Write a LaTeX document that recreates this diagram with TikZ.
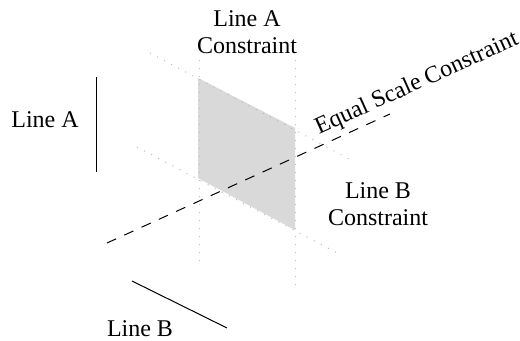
\documentclass[tikz,border=0pt]{standalone}
\usepackage{fontspec}
\setmainfont{Liberation Serif}
\usepackage{tikz}
\usetikzlibrary{positioning}
\definecolor{scgray}{RGB}{217,217,217}
\definecolor{scdot}{RGB}{185,185,185}
\tikzset{
  sclabel/.style={align=center, font=\fontsize{12}{13.5}\selectfont, inner sep=0pt},
  scguide/.style={draw=scdot, line width=0.5pt, dash pattern=on 0.5pt off 3.5pt},
  scline/.style={draw=black, line width=0.5pt},
  scdash/.style={draw=black, line width=0.5pt, dash pattern=on 5pt off 4.5pt}
}

\begin{document}
\begin{tikzpicture}[x=0.5pt,y=-0.5pt]
  \useasboundingbox (0,0) rectangle (520,341);
  % constraint region
  \coordinate (pTL) at (198,78);
  \coordinate (pTR) at (295,128);
  \coordinate (pBR) at (295,230);
  \coordinate (pBL) at (198,178);
  \fill[scgray] (pTL) -- (pTR) -- (pBR) -- (pBL) -- cycle;
  % guides
  \coordinate (gA1) at (199,60);
  \coordinate (gA2) at (199,268);
  \coordinate (gB1) at (295,60);
  \coordinate (gB2) at (295,290);
  \coordinate (gC1) at (150,53);
  \coordinate (gC2) at (353,161);
  \coordinate (gD1) at (137,147);
  \coordinate (gD2) at (341,255);
  \draw[scguide] (gA1) -- (gA2);
  \draw[scguide] (gB1) -- (gB2);
  \draw[scguide] (gC1) -- (gC2);
  \draw[scguide] (gD1) -- (gD2);
  % lines
  \coordinate (lA1) at (96,77);
  \coordinate (lA2) at (96,172);
  \coordinate (lB1) at (132,281);
  \coordinate (lB2) at (227,328);
  \coordinate (eq1) at (107,243);
  \coordinate (eq2) at (390,114);
  \draw[scline] (lA1) -- (lA2);
  \draw[scline] (lB1) -- (lB2);
  \draw[scdash] (eq1) -- (eq2);
  % labels
  \node[sclabel] (tA) at (45,120) {Line A};
  \node[sclabel] (tB) at (140,329) {Line B};
  \node[sclabel] (tAC) at (247,32) {Line A\\Constraint};
  \node[sclabel] (tBC) at (378,204) {Line B\\Constraint};
  \node[sclabel, rotate=24.3] (tEQ) at (417,84) {Equal Scale Constraint};
\end{tikzpicture}
\end{document}
